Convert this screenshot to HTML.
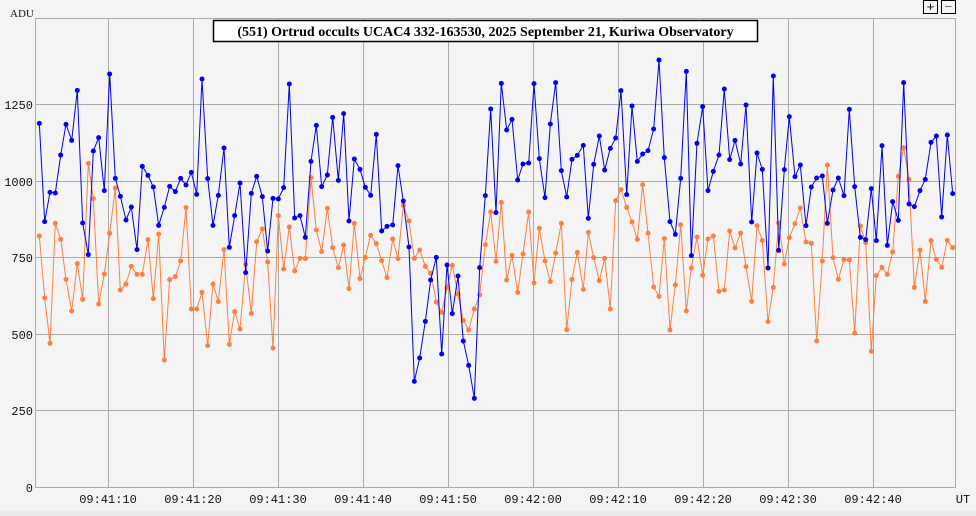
<!DOCTYPE html>
<html><head><meta charset="utf-8"><style>
html,body{margin:0;padding:0;background:#f4f4f4;}
body{width:976px;height:516px;overflow:hidden;position:relative;font-family:"Liberation Sans",sans-serif;}
</style></head><body>
<svg id="s" width="976" height="516" xmlns="http://www.w3.org/2000/svg" style="position:absolute;left:0;top:0">
<rect x="0" y="0" width="976" height="511" fill="#f4f4f4"/>
<rect x="0" y="511" width="976" height="5" fill="#ebebeb"/>
<g stroke="#aaaaaa" stroke-width="1" fill="none">
<rect x="35.5" y="18.5" width="920" height="469"/>
<line x1="35.5" y1="410.5" x2="955.5" y2="410.5"/>
<line x1="35.5" y1="334.5" x2="955.5" y2="334.5"/>
<line x1="35.5" y1="257.5" x2="955.5" y2="257.5"/>
<line x1="35.5" y1="181.5" x2="955.5" y2="181.5"/>
<line x1="35.5" y1="104.5" x2="955.5" y2="104.5"/>
<line x1="108.5" y1="18.5" x2="108.5" y2="487.5"/>
<line x1="193.5" y1="18.5" x2="193.5" y2="487.5"/>
<line x1="278.5" y1="18.5" x2="278.5" y2="487.5"/>
<line x1="363.5" y1="18.5" x2="363.5" y2="487.5"/>
<line x1="448.5" y1="18.5" x2="448.5" y2="487.5"/>
<line x1="533.5" y1="18.5" x2="533.5" y2="487.5"/>
<line x1="618.5" y1="18.5" x2="618.5" y2="487.5"/>
<line x1="703.5" y1="18.5" x2="703.5" y2="487.5"/>
<line x1="788.5" y1="18.5" x2="788.5" y2="487.5"/>
<line x1="873.5" y1="18.5" x2="873.5" y2="487.5"/>
</g>
<g font-family="Liberation Mono, monospace" font-size="12" fill="#111" text-anchor="end">
<text x="33" y="492">0</text><text x="33" y="415">250</text><text x="33" y="339">500</text>
<text x="33" y="262">750</text><text x="33" y="186">1000</text><text x="33" y="109">1250</text>
</g>
<text x="10" y="17" font-family="Liberation Serif, serif" font-size="11" fill="#111">ADU</text>
<g font-family="Liberation Mono, monospace" font-size="12" fill="#111" text-anchor="middle">
<text x="108" y="503">09:41:10</text><text x="193" y="503">09:41:20</text><text x="278" y="503">09:41:30</text>
<text x="363" y="503">09:41:40</text><text x="448" y="503">09:41:50</text><text x="533" y="503">09:42:00</text>
<text x="618" y="503">09:42:10</text><text x="703" y="503">09:42:20</text><text x="788" y="503">09:42:30</text>
<text x="873" y="503">09:42:40</text><text x="963" y="503">UT</text>
</g>
<g id="series"></g>
<rect x="213.5" y="20.5" width="544" height="21" fill="#ffffff" stroke="#000" stroke-width="1.5"/>
<text x="485.5" y="36" text-anchor="middle" font-family="Liberation Serif, serif" font-weight="bold" font-size="14" fill="#000">(551) Ortrud occults UCAC4 332-163530, 2025 September 21, Kuriwa Observatory</text>
<rect x="923.5" y="0.5" width="14" height="13" fill="#f4f4f4" stroke="#000"/>
<text x="930.5" y="11" text-anchor="middle" font-family="Liberation Sans, sans-serif" font-size="13" fill="#000">+</text>
<rect x="941.5" y="0.5" width="14" height="13" fill="#f4f4f4" stroke="#000"/>
<text x="948.5" y="11" text-anchor="middle" font-family="Liberation Sans, sans-serif" font-size="13" fill="#666">−</text>
</svg>
<script>
var Z=[
{ox:30,oy:60,b:[[28,190],[44,485],[60,397],[76,399],[92,285],[108,193],[125,241],[142,91],[158,489],[175,584],[190,273],[206,233],[223,392],[239,42],[256,355],[271,409],[288,480],[304,441],[321,569],[337,319],[354,346],[370,381],[386,496],[403,442],[419,379],[436,395],[452,355],[468,375],[484,337],[500,403],[516,57],[533,356],[549,496],[565,406],[582,264],[598,562],[614,467],[630,369],[647,638],[664,400],[680,349],[697,410],[713,573]],
o:[[28,528],[44,714],[60,850],[76,490],[92,538],[108,658],[125,753],[142,611],[158,718],[175,310],[190,416],[206,732],[223,642],[239,520],[256,384],[271,690],[288,672],[304,619],[321,643],[337,643],[354,539],[370,716],[386,522],[403,900],[419,659],[436,650],[452,603],[468,443],[484,747],[500,747],[516,697],[533,857],[549,672],[565,725],[582,569],[598,853],[614,755],[630,807],[647,614],[664,760],[680,545],[697,507],[713,606]]},
{ox:260,oy:60,b:[[39,415],[55,417],[71,383],[88,72],[104,474],[120,467],[136,532],[153,304],[169,196],[185,380],[202,345],[218,172],[235,361],[251,161],[267,483],[283,297],[300,328],[316,382],[332,406],[349,223],[365,513],[381,499],[398,495],[414,317],[430,423],[447,561],[463,964],[479,894],[496,784],[512,660],[529,592],[545,882],[561,615],[577,761],[594,648],[610,843],[626,916],[643,1015],[659,623],[676,407],[692,147],[708,458]],
o:[[39,864],[55,467],[71,627],[88,501],[104,633],[120,595],[136,596],[153,353],[169,510],[185,575],[202,445],[218,563],[235,623],[251,555],[267,686],[283,490],[300,656],[316,592],[332,526],[349,551],[365,602],[381,653],[398,537],[414,596],[430,436],[447,483],[463,595],[479,570],[496,619],[512,640],[529,726],[545,757],[561,683],[577,616],[594,702],[610,781],[626,810],[643,747],[659,705],[676,554],[692,456],[708,604]]},
{ox:490,oy:50,b:[[34,100],[50,240],[66,208],[83,390],[99,342],[116,339],[132,101],[148,326],[165,443],[181,222],[197,98],[214,362],[230,441],[246,328],[262,316],[280,286],[295,505],[311,343],[328,258],[344,360],[361,295],[377,264],[393,122],[410,434],[426,168],[442,334],[458,312],[474,302],[491,237],[507,30],[523,323],[540,515],[556,553],[572,385],[589,64],[604,617],[621,280],[638,170],[654,422],[670,364],[687,315],[703,117],[719,329]],
o:[[34,457],[50,690],[66,616],[83,727],[99,612],[116,486],[132,699],[148,535],[165,633],[181,695],[197,609],[214,520],[230,839],[246,688],[262,607],[280,718],[295,547],[311,623],[328,692],[344,625],[361,777],[377,452],[393,419],[410,472],[426,516],[442,568],[458,404],[474,549],[491,711],[507,739],[523,566],[540,840],[556,705],[572,524],[589,783],[604,654],[621,561],[638,676],[654,567],[670,558],[687,724],[703,720],[719,543]]},
{ox:720,oy:50,b:[[45,271],[62,342],[78,165],[95,516],[111,309],[127,358],[144,654],[160,78],[176,601],[193,359],[208,200],[225,380],[241,345],[258,527],[274,411],[290,384],[307,378],[322,520],[339,420],[355,384],[372,437],[388,178],[404,410],[421,562],[437,569],[454,416],[469,572],[486,287],[502,586],[518,455],[535,511],[551,98],[567,462],[583,470],[600,422],[616,388],[633,277],[649,258],[665,501],[682,255],[698,431]],
o:[[45,594],[62,549],[78,650],[95,754],[111,527],[127,571],[144,815],[160,712],[176,519],[193,642],[208,563],[225,521],[241,474],[258,576],[274,580],[290,873],[307,633],[322,345],[339,623],[355,688],[372,629],[388,630],[404,849],[421,528],[437,578],[454,904],[469,677],[486,652],[502,673],[518,606],[535,379],[551,293],[567,388],[583,712],[600,600],[616,754],[633,572],[649,628],[665,652],[682,571],[698,593]]}
];
var B=[],O=[];
Z.forEach(function(z){z.b.forEach(function(p){B.push([z.ox+p[0]/3,z.oy+p[1]/3]);});z.o.forEach(function(p){O.push([z.ox+p[0]/3,z.oy+p[1]/3]);});});
function draw(P,c){
 var g=document.getElementById('series'),ns='http://www.w3.org/2000/svg';
 var pl=document.createElementNS(ns,'polyline');
 pl.setAttribute('points',P.map(function(p){return p[0].toFixed(1)+','+p[1].toFixed(1)}).join(' '));
 pl.setAttribute('fill','none');pl.setAttribute('stroke',c);pl.setAttribute('stroke-width','1');
 g.appendChild(pl);
 P.forEach(function(p){var r=document.createElementNS(ns,'circle');r.setAttribute('cx',p[0]);r.setAttribute('cy',p[1]);r.setAttribute('r','2.5');r.setAttribute('fill',c);g.appendChild(r);});
}
draw(O,'#ff7f40');
draw(B,'#0000ee');
</script>
</body></html>
